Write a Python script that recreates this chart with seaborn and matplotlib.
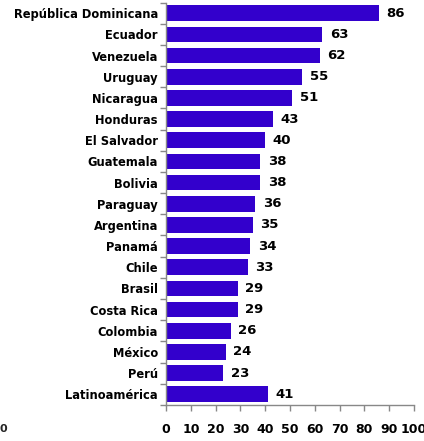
import numpy as np
import pandas as pd
import seaborn as sns
import matplotlib
matplotlib.use('Agg')
import matplotlib.pyplot as plt

paises = ['República Dominicana', 'Ecuador', 'Venezuela', 'Uruguay', 'Nicaragua',
          'Honduras', 'El Salvador', 'Guatemala', 'Bolivia', 'Paraguay',
          'Argentina', 'Panamá', 'Chile', 'Brasil', 'Costa Rica', 'Colombia',
          'México', 'Perú', 'Latinoamérica']
valores = [86, 63, 62, 55, 51, 43, 40, 38, 38, 36, 35, 34, 33, 29, 29, 26, 24, 23, 41]
xticks = [0, 10, 20, 30, 40, 50, 60, 70, 80, 90, 100]

sns.set_style('white')
plt.rcParams['font.family'] = ['DejaVu Sans']

df = pd.DataFrame({'pais': paises, 'valor': valores})

fig = plt.figure(figsize=(4.24, 4.41), dpi=100)
ax = fig.add_axes([0.392, 0.082, 0.584, 0.912])
sns.barplot(data=df, x='valor', y='pais', color='#3300CC', saturation=1,
            width=0.74, ax=ax, orient='h', linewidth=0)

# etiquetas de valor
for i, v in enumerate(valores):
    ax.text(v + 3, i, str(v), va='center', ha='left', fontsize=9.5,
            fontweight='bold', color='black')

ax.set_xlim(0, 100)
ax.set_ylim(len(paises) - 0.5, -0.5)
ax.set_xticks(xticks)
ax.set_xticklabels([str(t) for t in xticks], fontsize=9, fontweight='bold', color='black')
ax.set_yticks(np.arange(len(paises)))
ax.set_yticklabels(paises, fontsize=8.3, fontweight='bold', color='black')
ax.set_yticks(np.arange(-0.5, len(paises), 1), minor=True)
ax.tick_params(axis='y', which='both', left=True)
ax.tick_params(axis='y', which='major', length=0, pad=6)
ax.tick_params(axis='y', which='minor', length=4, width=1, color='#888888', direction='out')
ax.tick_params(axis='x', which='major', bottom=True, length=4, width=1, color='#888888',
               direction='out', pad=9)
ax.set_xlabel('')
ax.set_ylabel('')

for s in ['top', 'right']:
    ax.spines[s].set_visible(False)
for s in ['left', 'bottom']:
    ax.spines[s].set_color('#888888')
    ax.spines[s].set_linewidth(1)

fig.text(0.0, 0.015, '0', fontsize=8, fontweight='bold', ha='left', va='bottom')

fig.savefig('out.png', dpi=100)
